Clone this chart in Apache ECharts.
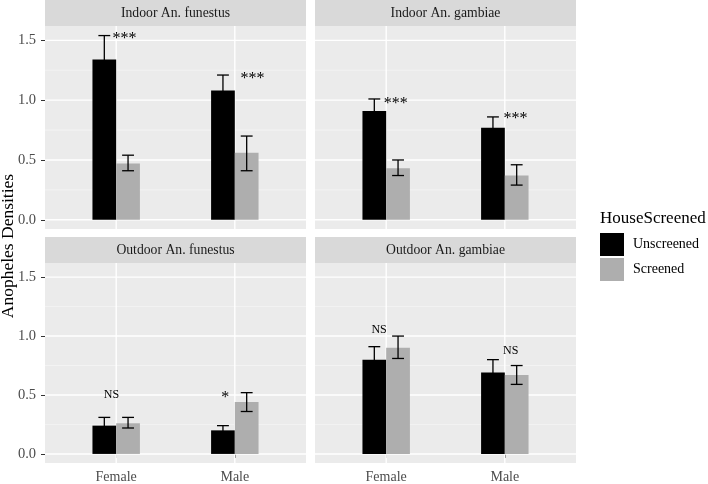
<!DOCTYPE html>
<html>
<head>
<meta charset="utf-8">
<script src="https://cdn.jsdelivr.net/npm/echarts@6/dist/echarts.min.js"></script>
<style>
  html, body { margin: 0; padding: 0; background: #fff; }
  #chart { width: 708px; height: 484px; }
</style>
</head>
<body>
<div id="chart"></div>
<script>
// data
const sexes = ['Female', 'Male'];
const panels = ['Indoor An. funestus', 'Indoor An. gambiae', 'Outdoor An. funestus', 'Outdoor An. gambiae'];
const unscreenedMean = [[1.34, 1.08], [0.91, 0.77], [0.24, 0.20], [0.80, 0.69]];
const unscreenedUpper = [[1.54, 1.21], [1.01, 0.86], [0.31, 0.24], [0.91, 0.80]];
const unscreenedLower = [[1.14, 0.95], [0.81, 0.68], [0.17, 0.16], [0.69, 0.58]];
const screenedMean = [[0.47, 0.56], [0.43, 0.37], [0.26, 0.44], [0.90, 0.67]];
const screenedUpper = [[0.54, 0.70], [0.50, 0.46], [0.31, 0.52], [1.00, 0.75]];
const screenedLower = [[0.41, 0.41], [0.37, 0.29], [0.22, 0.36], [0.81, 0.59]];
// significance labels: text, x (category units), y (data units)
const sigText = [['***', '***'], ['***', '***'], ['NS', '*'], ['NS', 'NS']];
const sigX = [[1.07, 2.15], [1.08, 2.09], [0.96, 1.92], [0.94, 2.05]];
const sigY = [[1.515, 1.18], [0.97, 0.845], [0.50, 0.475], [1.056, 0.875]];
const yTicks = [0, 0.5, 1.0, 1.5];
const yMinor = [0.25, 0.75, 1.25];

const FONT = 'Liberation Serif';
const BLACK = '#000000';
const GREY = '#aeaeae';

const chart = echarts.init(document.getElementById('chart'));

const gridPos = [
  { left: 45, top: 26 }, { left: 315, top: 26 },
  { left: 45, top: 263 }, { left: 315, top: 263 }
];

const grids = [], xAxes = [], yAxes = [], series = [], graphics = [];

function gridRender(params, api) {
  const cs = params.coordSys;
  const kind = api.value(2);
  if (kind === 2) {
    const px = api.coord([api.value(0), 0])[0];
    return { type: 'line', shape: { x1: px, y1: cs.y, x2: px, y2: cs.y + cs.height },
      style: { stroke: '#ffffff', lineWidth: 1.4 } };
  }
  const py = api.coord([1, api.value(1)])[1];
  return { type: 'line', shape: { x1: cs.x, y1: py, x2: cs.x + cs.width, y2: py },
    style: { stroke: kind === 1 ? '#ffffff' : '#f7f7f7', lineWidth: kind === 1 ? 1.4 : 0.7 } };
}

function barRender(side) {
  return function (params, api) {
    const x = api.value(0), m = api.value(1), lo = api.value(2), hi = api.value(3);
    const x0 = side < 0 ? x - 0.2 : x, x1 = side < 0 ? x : x + 0.2;
    const p0 = api.coord([x0, 0]), p1 = api.coord([x1, m]);
    const cx = api.coord([(x0 + x1) / 2, 0])[0];
    const capL = api.coord([(x0 + x1) / 2 - 0.05, 0])[0];
    const capR = api.coord([(x0 + x1) / 2 + 0.05, 0])[0];
    const yHi = api.coord([x, hi])[1], yLo = api.coord([x, lo])[1];
    const err = { stroke: '#000', lineWidth: 1.3 };
    return { type: 'group', children: [
      { type: 'rect', shape: { x: p0[0], y: p1[1], width: p1[0] - p0[0], height: p0[1] - p1[1] },
        style: { fill: side < 0 ? BLACK : GREY } },
      { type: 'line', shape: { x1: cx, y1: yHi, x2: cx, y2: yLo }, style: err },
      { type: 'line', shape: { x1: capL, y1: yHi, x2: capR, y2: yHi }, style: err },
      { type: 'line', shape: { x1: capL, y1: yLo, x2: capR, y2: yLo }, style: err }
    ] };
  };
}

panels.forEach(function (name, i) {
  const left = i % 2 === 0, bottom = i >= 2;
  grids.push({ left: gridPos[i].left, top: gridPos[i].top, width: 261, height: 203,
    show: true, backgroundColor: '#ebebeb', borderWidth: 0 });
  xAxes.push({ gridIndex: i, type: 'value', min: 0.4, max: 2.6,
    axisLine: { show: false }, splitLine: { show: false },
    axisTick: { show: bottom, length: 4, lineStyle: { color: '#333' }, customValues: [1, 2] },
    axisLabel: { show: bottom, customValues: [1, 2], margin: 7, fontFamily: FONT, fontSize: 14, color: '#4d4d4d',
      formatter: function (v) { return sexes[Math.round(v) - 1] || ''; } } });
  yAxes.push({ gridIndex: i, type: 'value', min: -0.077, max: 1.62,
    axisLine: { show: false }, splitLine: { show: false },
    axisTick: { show: left, length: 4, lineStyle: { color: '#333' }, customValues: yTicks },
    axisLabel: { show: left, customValues: yTicks, margin: 9, fontFamily: FONT, fontSize: 14.5, color: '#4d4d4d',
      formatter: function (v) { return v.toFixed(1); } } });

  const lines = yMinor.map(v => [1, v, 0])
    .concat(yTicks.map(v => [1, v, 1]))
    .concat([[1, 0, 2], [2, 0, 2]]);
  series.push({ type: 'custom', xAxisIndex: i, yAxisIndex: i, silent: true, z: 1,
    renderItem: gridRender, data: lines });

  series.push({ name: 'Unscreened', type: 'custom', xAxisIndex: i, yAxisIndex: i, z: 2,
    itemStyle: { color: BLACK }, renderItem: barRender(-1),
    data: sexes.map((s, j) => [j + 1, unscreenedMean[i][j], unscreenedLower[i][j], unscreenedUpper[i][j]]) });
  series.push({ name: 'Screened', type: 'custom', xAxisIndex: i, yAxisIndex: i, z: 2,
    itemStyle: { color: GREY }, renderItem: barRender(1),
    data: sexes.map((s, j) => [j + 1, screenedMean[i][j], screenedLower[i][j], screenedUpper[i][j]]) });

  series.push({ type: 'custom', xAxisIndex: i, yAxisIndex: i, silent: true, z: 3,
    data: sexes.map((s, j) => [sigX[i][j], sigY[i][j], j]),
    renderItem: function (params, api) {
      const p = api.coord([api.value(0), api.value(1)]);
      const t = sigText[i][api.value(2)];
      return { type: 'text', x: p[0], y: p[1],
        style: { text: t, fill: '#000', fontFamily: FONT, fontSize: t === 'NS' ? 12 : 16,
          align: 'center', verticalAlign: 'middle' } };
    } });

  // strip
  const sTop = gridPos[i].top - 26;
  graphics.push({ type: 'rect', left: gridPos[i].left, top: sTop,
    shape: { width: 261, height: 26 }, style: { fill: '#d9d9d9' } });
  graphics.push({ type: 'text', x: gridPos[i].left + 130.5, y: sTop + 13,
    style: { text: name, fill: '#1a1a1a', fontFamily: FONT, fontSize: 13.7, align: 'center', verticalAlign: 'middle' } });
});

graphics.push({ type: 'text', x: 8, y: 246, rotation: Math.PI / 2,
  style: { text: 'Anopheles Densities', fill: '#000', fontFamily: FONT, fontSize: 17.5, align: 'center', verticalAlign: 'middle' } });
graphics.push({ type: 'text', x: 600, y: 219,
  style: { text: 'HouseScreened', fill: '#000', fontFamily: FONT, fontSize: 17, align: 'left', verticalAlign: 'middle' } });

chart.setOption({
  animation: false,
  grid: grids,
  xAxis: xAxes,
  yAxis: yAxes,
  legend: {
    orient: 'vertical', left: 600, top: 233, padding: 0,
    itemWidth: 24, itemHeight: 23, itemGap: 2, selectedMode: false,
    textStyle: { fontFamily: FONT, fontSize: 14, color: '#000', padding: [0, 0, 0, 4] },
    data: [{ name: 'Unscreened', icon: 'rect' }, { name: 'Screened', icon: 'rect' }]
  },
  graphic: graphics,
  series: series
});
</script>
</body>
</html>
